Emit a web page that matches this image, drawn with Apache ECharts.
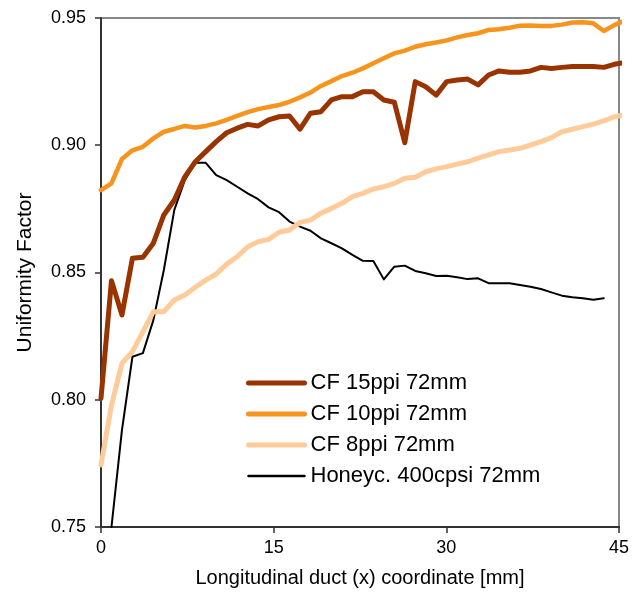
<!DOCTYPE html>
<html>
<head>
<meta charset="utf-8">
<script src="https://cdn.jsdelivr.net/npm/echarts@6/dist/echarts.min.js"></script>
<style>html,body{margin:0;padding:0;background:#fff}#c{width:640px;height:592px}</style>
</head>
<body>
<div id="c"></div>
<script>
// x positions (mm) of the sampled points
var xCoords = [0,0.91,1.82,2.73,3.64,4.55,5.46,6.37,7.28,8.19,9.1,10.01,10.92,11.83,12.74,13.65,14.56,15.47,16.38,17.29,18.2,19.11,20.02,20.93,21.84,22.75,23.66,24.57,25.48,26.39,27.3,28.21,29.12,30.03,30.94,31.85,32.76,33.67,34.58,35.49,36.4,37.31,38.22,39.13,40.04,40.95,41.86,42.77,43.68,44.59,45.5];
var seriesNames = ['CF 15ppi 72mm','CF 10ppi 72mm','CF 8ppi 72mm','Honeyc. 400cpsi 72mm'];
var cf15 = [0.8006,0.8468,0.8333,0.8556,0.856,0.8615,0.8726,0.8785,0.8876,0.8935,0.8975,0.9014,0.9049,0.9067,0.9082,0.9076,0.910,0.9112,0.9115,0.9063,0.9126,0.9132,0.9178,0.9191,0.9191,0.921,0.921,0.9178,0.9169,0.901,0.925,0.923,0.9197,0.925,0.9256,0.926,0.9237,0.9276,0.9292,0.9287,0.9287,0.9292,0.9306,0.9302,0.9306,0.9309,0.9309,0.9309,0.9306,0.9318,0.9325];
var cf10 = [0.8824,0.885,0.8946,0.898,0.8994,0.9027,0.9053,0.9064,0.9076,0.907,0.9076,0.9086,0.910,0.9115,0.913,0.9142,0.915,0.9158,0.9171,0.9188,0.9207,0.9233,0.9252,0.9272,0.9285,0.9302,0.9322,0.9342,0.9361,0.9372,0.9387,0.9397,0.9404,0.9412,0.9424,0.9433,0.944,0.9453,0.9456,0.9462,0.947,0.9471,0.9469,0.9469,0.9474,0.9482,0.9483,0.9479,0.9449,0.9472,0.949];
var cf8 = [0.7744,0.7979,0.8143,0.8189,0.8267,0.8346,0.8346,0.8392,0.8412,0.8442,0.847,0.8494,0.8533,0.8562,0.8601,0.8621,0.863,0.8658,0.8667,0.8697,0.8706,0.8733,0.8752,0.8772,0.8798,0.8811,0.8828,0.8837,0.885,0.887,0.8874,0.8896,0.8907,0.8916,0.8926,0.8935,0.8949,0.8962,0.8975,0.8981,0.8988,0.9001,0.9014,0.903,0.9053,0.9063,0.9073,0.9083,0.9096,0.9112,0.912];
var honey = [null,0.750,0.7881,0.8169,0.8183,0.8313,0.851,0.8746,0.8863,0.8931,0.8931,0.8883,0.8863,0.8837,0.8811,0.8788,0.8756,0.8737,0.870,0.868,0.8664,0.8634,0.8615,0.8595,0.8569,0.8546,0.8545,0.8473,0.8523,0.8527,0.8506,0.8497,0.8486,0.8487,0.8481,0.8474,0.8477,0.8458,0.8458,0.8458,0.8451,0.8444,0.8435,0.8422,0.8409,0.8403,0.8399,0.8393,0.8399,null,null];
var xTicks = [0,15,30,45];
var yTicks = [0.75,0.80,0.85,0.90,0.95];

function pairs(vals){
  var out = [];
  for (var i = 0; i < vals.length; i++) {
    out.push(vals[i] === null ? [xCoords[i], '-'] : [xCoords[i], vals[i]]);
  }
  return out;
}
var FONT = 'Liberation Sans, Arial, Helvetica, sans-serif';
var chart = echarts.init(document.getElementById('c'), null, {renderer:'canvas'});
var colors = ['#993300','#F7941D','#FFCC99','#000000'];
var widths = [5,4.5,5,2];
var legendWidths = [5,5,5,2.5];
var allData = [cf15, cf10, cf8, honey];
var series = [];
for (var k = 0; k < 4; k++) {
  series.push({
    name: seriesNames[k], type: 'line', data: pairs(allData[k]),
    symbol: 'none', showSymbol: false, connectNulls: false, clip: true,
    lineStyle: {color: colors[k], width: widths[k], join: 'round', cap: 'round'},
    itemStyle: {color: colors[k]},
    z: 4 - k, animation: false
  });
}
chart.setOption({
  animation: false,
  backgroundColor: '#ffffff',
  grid: {left: 101, right: 21, top: 18, bottom: 65, show: true, borderColor: '#888888', borderWidth: 2,
         containLabel: false, outerBoundsMode: 'none'},
  legend: {
    orient: 'vertical', left: 241, top: 367, itemWidth: 56, itemHeight: 14, itemGap: 9,
    itemStyle: {opacity: 0},
    textStyle: {fontFamily: FONT, fontSize: 22, color: '#000', padding: [0,0,0,1]},
    data: seriesNames.map(function(n, i){
      return {name: n, itemStyle: {opacity: 0, borderWidth: 0},
              lineStyle: {color: colors[i], width: legendWidths[i], cap: 'round', opacity: 1}};
    }),
    selectedMode: false
  },
  xAxis: {
    type: 'value', min: xTicks[0], max: xTicks[xTicks.length-1], interval: 15,
    name: 'Longitudinal duct (x) coordinate [mm]', nameLocation: 'middle', nameGap: 41,
    nameTextStyle: {fontFamily: FONT, fontSize: 20, color: '#000'},
    axisLine: {show: true, onZero: false, lineStyle: {color: '#333', width: 2}},
    axisTick: {show: true, inside: false, length: 6, lineStyle: {color: '#333', width: 1.5}},
    axisLabel: {fontFamily: FONT, fontSize: 18, color: '#000', margin: 12},
    splitLine: {show: false}
  },
  yAxis: {
    type: 'value', min: yTicks[0], max: yTicks[yTicks.length-1], interval: 0.05,
    name: 'Uniformity Factor', nameLocation: 'middle', nameGap: 65,
    nameTextStyle: {fontFamily: FONT, fontSize: 21, color: '#000'},
    axisLine: {show: true, onZero: false, lineStyle: {color: '#333', width: 2}},
    axisTick: {show: true, inside: false, length: 6, lineStyle: {color: '#333', width: 1.5}},
    axisLabel: {fontFamily: FONT, fontSize: 18, color: '#000', margin: 15, formatter: function(v){return v.toFixed(2);}},
    splitLine: {show: false}
  },
  series: series
});
</script>
</body>
</html>
